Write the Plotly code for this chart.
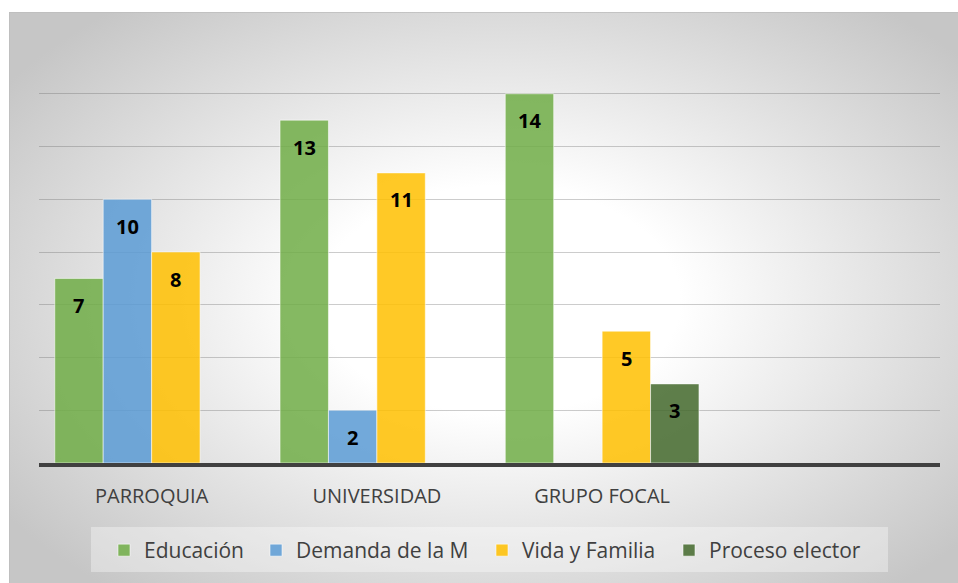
import plotly.graph_objects as go

# Data
categories = ["PARROQUIA", "UNIVERSIDAD", "GRUPO FOCAL"]
series_names = ["Educación", "Demanda de la M", "Vida y Familia", "Proceso elector"]
educacion = [7, 13, 14]
demanda = [10, 2, None]
vida_familia = [8, 11, 5]
proceso_elector = [None, None, 3]
series_values = [educacion, demanda, vida_familia, proceso_elector]

colors = ["rgba(112,173,71,0.85)", "rgba(91,155,213,0.85)",
          "rgba(255,192,0,0.85)", "rgba(67,104,43,0.85)"]

W, H = 958, 583
FONT = "Open Sans"
bargap = 0.14
bar_w = (1 - bargap) / len(series_names)

fig = go.Figure()

# Radial gradient backdrop (drawn on a hidden full-page subplot, pixel coords)
fig.add_trace(go.Scatter(
    x=[-100, 1100, 1100, -100, -100], y=[-80, -80, 680, 680, -80],
    mode="lines", fill="toself", line=dict(width=0),
    fillgradient=dict(type="radial",
                      colorscale=[[0, "#ffffff"], [0.3, "#ffffff"], [1, "#c6c6c6"]]),
    hoverinfo="skip", showlegend=False, xaxis="x", yaxis="y"))

# Bars, each series with its own legend so the entries can be spaced like the original
legend_text_x = [146, 298, 524, 711]
x_pos = list(range(len(categories)))
for k, (name, vals) in enumerate(zip(series_names, series_values)):
    fig.add_trace(go.Bar(
        x=x_pos, y=vals, name=name,
        marker=dict(color=colors[k], line=dict(color="rgba(255,255,255,0.55)", width=1)),
        legend="legend" if k == 0 else "legend%d" % (k + 1),
        xaxis="x2", yaxis="y2"))

# Data labels (inside end of each bar)
annotations = []
for k, vals in enumerate(series_values):
    for i, v in enumerate(vals):
        if v is None:
            continue
        annotations.append(dict(
            x=i + (k - 1.5) * bar_w, y=v, xref="x2", yref="y2",
            text=str(v), showarrow=False, yshift=-27, yanchor="middle",
            font=dict(family=FONT, size=20, color="#000000", weight="bold")))

shapes = [
    dict(type="line", xref="x", yref="y", x0=9, x1=W, y0=12, y1=12,
         line=dict(color="#bdbdbd", width=1.5)),
    dict(type="line", xref="x", yref="y", x0=9, x1=9, y0=12, y1=H,
         line=dict(color="#bdbdbd", width=1.5)),
    dict(type="rect", xref="x", yref="y", x0=91, x1=888, y0=527, y1=572,
         fillcolor="rgba(255,255,255,0.35)", line=dict(width=0), layer="above"),
]

legends = {}
for k, tx in enumerate(legend_text_x):
    key = "legend" if k == 0 else "legend%d" % (k + 1)
    legends[key] = dict(orientation="h", x=(tx - 42) / W, xanchor="left",
                        y=1 - 530 / H, yanchor="top", bgcolor="rgba(0,0,0,0)",
                        font=dict(family=FONT, size=21, color="#404040"))

fig.update_layout(
    width=W, height=H,
    margin=dict(l=0, r=0, t=0, b=0),
    paper_bgcolor="#ffffff",
    plot_bgcolor="rgba(0,0,0,0)",
    barmode="group", bargap=bargap, bargroupgap=0,
    font=dict(family=FONT, size=20, color="#404040"),
    xaxis=dict(domain=[9 / W, 1], range=[9, W], visible=False, fixedrange=True),
    yaxis=dict(domain=[0, 1 - 12 / H], range=[H, 12], visible=False, fixedrange=True),
    xaxis2=dict(domain=[39 / W, 940 / W], range=[-0.5, 3.5], anchor="y2",
                tickvals=x_pos, ticktext=categories, showgrid=False, zeroline=False,
                showline=True, linecolor="#404040", linewidth=4, ticks="",
                ticklabelstandoff=12,
                tickfont=dict(family=FONT, size=20, color="#404040")),
    yaxis2=dict(domain=[(H - 463) / H, 1 - 41 / H], range=[0, 16], dtick=2,
                anchor="x2", showgrid=True, gridcolor="rgba(100,100,100,0.33)", gridwidth=1.3,
                zeroline=False, showticklabels=False),
    annotations=annotations,
    shapes=shapes,
    hovermode=False,
    **legends,
)

# drop the page margin so the figure fills the window exactly
fig.write_html("out.html", config={"displayModeBar": False},
               post_script="document.body.style.margin = '0'; document.body.style.overflow = 'hidden';")
